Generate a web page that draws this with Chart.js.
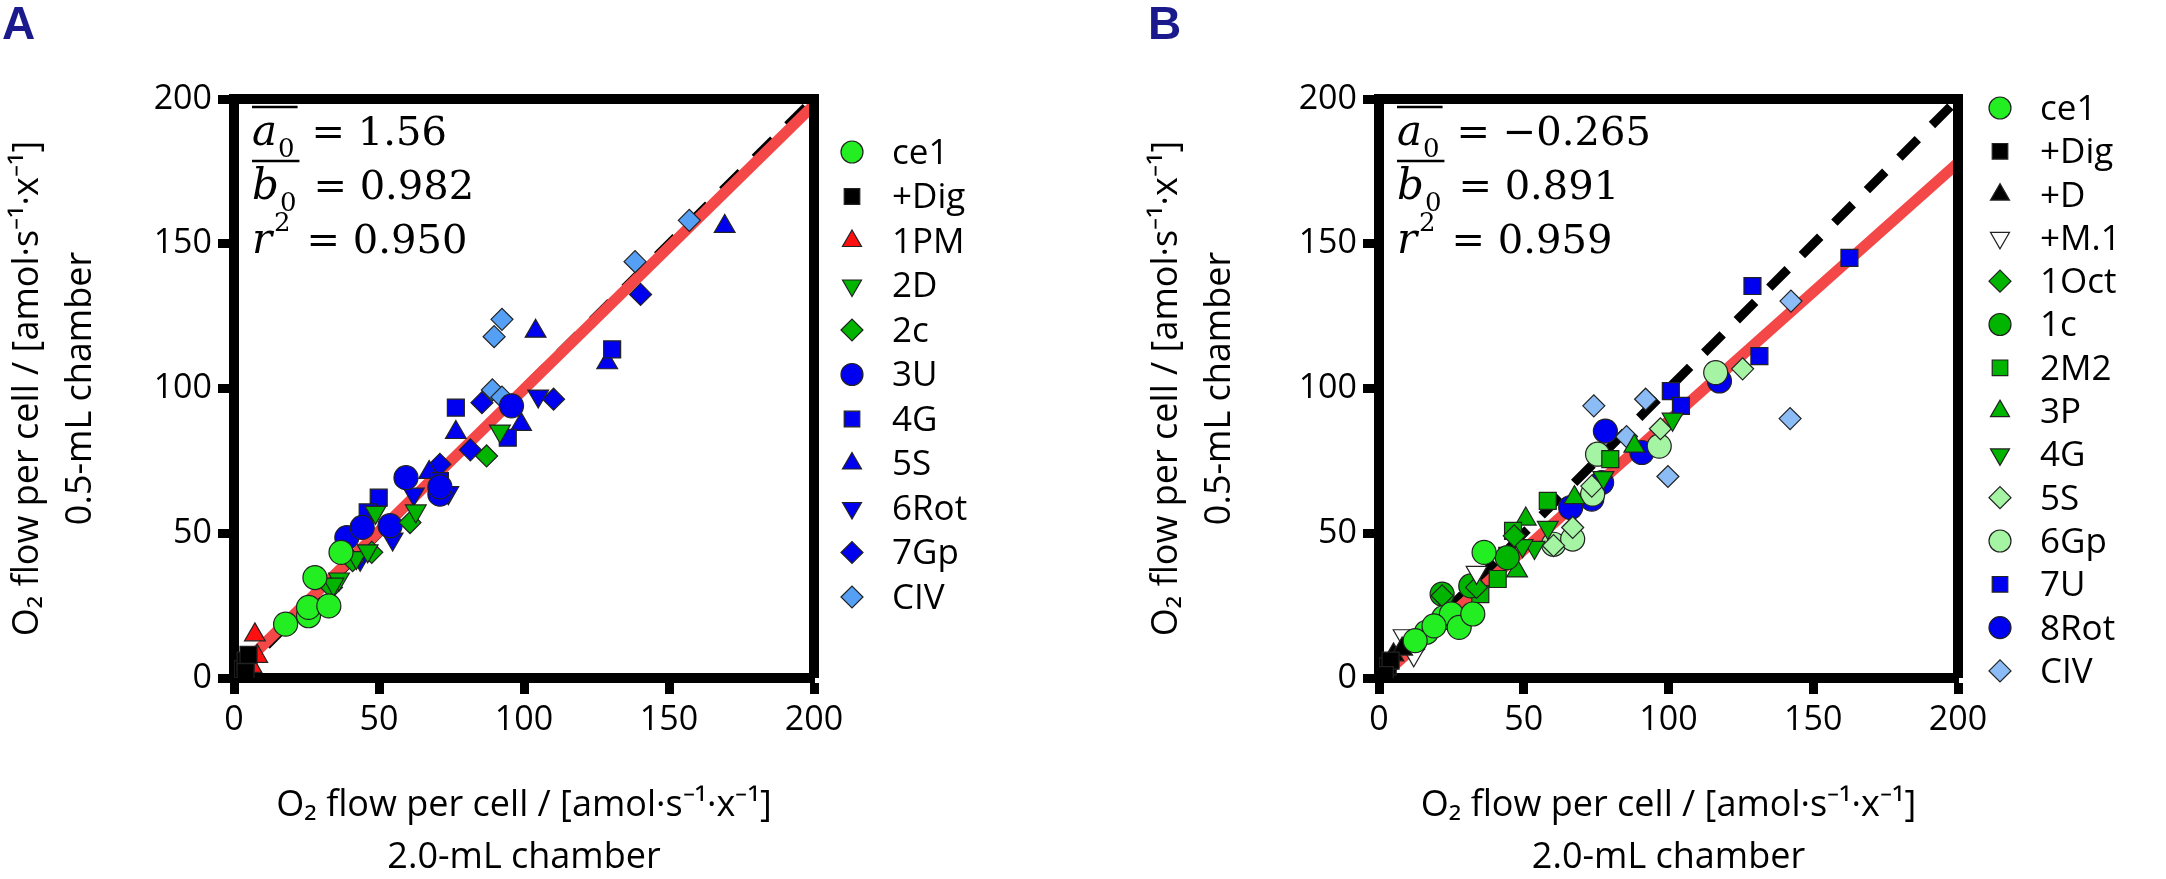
<!DOCTYPE html>
<html>
<head>
<meta charset="utf-8">
<script src="https://cdn.jsdelivr.net/npm/chart.js@4"></script>
<style>
  body { margin: 0; background: #fff; width: 2166px; height: 879px; overflow: hidden; position: relative; font-family: 'Open Sans', sans-serif; }
  .wrap { position: absolute; top: 0; width: 1083px; height: 879px; }
  .panel-tag { position: absolute; top: -4px; font: bold 46px 'Liberation Sans', sans-serif; color: #1a1a8c; }
</style>
</head>
<body>
<div class="wrap" style="left:0"><canvas id="chartA"></canvas></div>
<div class="wrap" style="left:1083px"><canvas id="chartB"></canvas></div>
<div class="panel-tag" style="left:2px">A</div>
<div class="panel-tag" style="left:1148px">B</div>
<script>
// axis ticks shared by both panels
const tickValues = [0, 50, 100, 150, 200];

// ---- Panel A ----
const a_ce1 = [{x:17.8,y:18.6},{x:25.7,y:21.5},{x:25.7,y:24.4},{x:32.7,y:24.9},{x:27.9,y:34.7},{x:36.9,y:43.4}];
const a_dig = [{x:3,y:3},{x:4,y:6},{x:5,y:8},{x:4,y:2}];
const a_1pm = [{x:7.2,y:14.9},{x:8,y:7.5},{x:6,y:4}];
const a_2d = [{x:36.2,y:34.2},{x:42.2,y:41.6},{x:46.1,y:43.9},{x:48.8,y:57.2},{x:62.7,y:57.7},{x:91.7,y:85.3},{x:34.3,y:32.4}];
const a_2c = [{x:87.1,y:76.7},{x:60.7,y:53.7},{x:47.5,y:43.4},{x:33.6,y:31.3},{x:40.9,y:40.5}];
const a_3u = [{x:38.9,y:48.5},{x:44.2,y:52},{x:53.8,y:52.6},{x:59.3,y:69.2},{x:71,y:63.5},{x:95.7,y:94},{x:71,y:66}];
const a_4g = [{x:49.9,y:62.3},{x:76.5,y:93.4},{x:94.4,y:83},{x:130.4,y:113.5},{x:71,y:68},{x:46.1,y:57.2}];
const a_5s = [{x:76.5,y:84.8},{x:99,y:87.6},{x:104,y:119.8},{x:128.7,y:108.9},{x:169.2,y:156},{x:67.3,y:71}];
const a_6rot = [{x:104.9,y:97.4},{x:62,y:63.5},{x:54.7,y:48},{x:43.5,y:41},{x:73.9,y:64}];
const a_7gp = [{x:110.2,y:96.3},{x:85.5,y:95.1},{x:81.5,y:78.8},{x:140.2,y:132.5},{x:71,y:73.8}];
const a_civ = [{x:92.4,y:123.9},{x:89.7,y:117.9},{x:89.1,y:99.5},{x:138.3,y:143.8},{x:157,y:158.1},{x:92.4,y:97}];
const a_fit = { a0: 1.56, b0: 0.982, r2: '0.950', a0Text: '1.56', b0Text: '0.982' };

// ---- Panel B ----
const b_ce1 = [{x:16.4,y:15.8},{x:22.4,y:20.9},{x:25,y:22.1},{x:27.7,y:17.5},{x:32.4,y:22.1},{x:36.3,y:43.4},{x:12.5,y:12.9},{x:19,y:18}];
const b_dig = [{x:1,y:2},{x:3,y:4},{x:4,y:6},{x:2,y:1}];
const b_d = [{x:2,y:4},{x:5,y:8},{x:8,y:10}];
const b_m1 = [{x:3,y:2},{x:8.5,y:14.6},{x:12,y:8},{x:33.7,y:36.5}];
const b_1oct = [{x:21.8,y:28.4},{x:33.7,y:31.3},{x:46.7,y:49.1},{x:12,y:10}];
const b_1c = [{x:21.8,y:29},{x:31.7,y:31.8},{x:44.3,y:41.6}];
const b_2m2 = [{x:35,y:29},{x:41,y:34.2},{x:46.3,y:50.8},{x:58.3,y:61.2},{x:79.9,y:75.6},{x:44.3,y:42.2}];
const b_3p = [{x:50.7,y:54.9},{x:67.5,y:62.3},{x:88.2,y:80.1},{x:47.7,y:37}];
const b_4g = [{x:58.3,y:52},{x:53.7,y:45.1},{x:77.5,y:69.2},{x:101.4,y:89.4},{x:49.6,y:45.7}];
const b_5s = [{x:66.9,y:52},{x:73.5,y:66.3},{x:97.2,y:86.1},{x:125.6,y:106.8},{x:60.3,y:45.7}];
const b_6gp = [{x:60.3,y:46.2},{x:66.9,y:48},{x:73.8,y:63.5},{x:75.5,y:77.3},{x:96.8,y:80.1},{x:116.3,y:105.5}];
const b_7u = [{x:129,y:135.4},{x:162.5,y:145.1},{x:131.4,y:111.2},{x:100.8,y:99.1},{x:104.3,y:94}];
const b_8rot = [{x:78.2,y:85.3},{x:90.8,y:77.9},{x:117.6,y:102.6},{x:76.9,y:67.5},{x:73.5,y:61.8},{x:66.2,y:58.9}];
const b_civ = [{x:74.2,y:94},{x:92.1,y:96.3},{x:85.5,y:83.4},{x:99.8,y:69.6},{x:142.3,y:130.2},{x:142,y:89.6}];
const b_fit = { a0: -0.265, b0: 0.891, a0Text: '\u22120.265', b0Text: '0.891', r2: '0.959' };

const FONT = "'Open Sans', sans-serif";

function pts(label, data, shape, color, rotation, radius) {
    return {
        label, data, type: 'scatter', pointStyle: shape, rotation: rotation || 0,
        backgroundColor: color, borderColor: '#222', borderWidth: 1.2,
        pointRadius: radius || 12, pointHoverRadius: radius || 12, order: 0, legendItem: true
    };
}

function lineSets(fit, redStart) {
    return [
        { type: 'line', data: [{x:0,y:0},{x:200,y:200}], borderColor: '#000', borderWidth: 9,
          borderDash: [26, 20], pointRadius: 0, order: 2 },
        { type: 'line', data: [{x:redStart,y:fit.a0 + fit.b0*redStart},{x:200,y:fit.a0 + fit.b0*200}],
          borderColor: '#f44848', borderWidth: 11, pointRadius: 0, order: 1 }
    ];
}

// frame, legend, equations, axis titles
const decorPlugin = {
    id: 'decor',
    afterDraw(chart, args, o) {
        const { ctx, chartArea: ca } = chart;
        ctx.save();
        ctx.strokeStyle = '#000';
        ctx.lineWidth = 10;
        ctx.beginPath();
        ctx.moveTo(ca.left, ca.top); ctx.lineTo(ca.right, ca.top); ctx.lineTo(ca.right, ca.bottom);
        ctx.stroke();

        // legend
        const items = chart.data.datasets.filter(d => d.legendItem);
        items.forEach((d, i) => {
            const y = o.legY + i * o.legStep;
            ctx.fillStyle = d.backgroundColor;
            ctx.strokeStyle = '#222';
            ctx.lineWidth = 1.2;
            ctx.setLineDash([]);
            Chart.helpers.drawPoint(ctx, { pointStyle: d.pointStyle, radius: 11, rotation: d.rotation, borderWidth: 1.2 }, o.legX, y);
            ctx.fillStyle = '#000';
            ctx.font = `35px ${FONT}`;
            ctx.textAlign = 'left'; ctx.textBaseline = 'middle';
            ctx.fillText(d.label, o.legX + 40, y + 2);
        });

        // fit equations
        const ex = ca.left + 18;
        const rows = [['a', o.fit.a0Text, true], ['b', o.fit.b0Text, true], ['r', o.fit.r2, false]];
        rows.forEach((r, i) => {
            const y = ca.top + 36 + i * 54;
            ctx.fillStyle = '#000';
            ctx.strokeStyle = '#000';
            ctx.textBaseline = 'alphabetic'; ctx.textAlign = 'left';
            ctx.font = "italic 42px 'DejaVu Serif', serif";
            ctx.fillText(r[0], ex, y + 10);
            const w = ctx.measureText(r[0]).width;
            ctx.font = "26px 'DejaVu Serif', serif";
            if (r[2]) ctx.fillText('0', ex + w + 1, y + 22);
            else ctx.fillText('2', ex + w + 2, y - 12);
            const w2 = w + ctx.measureText(r[2] ? '0' : '2').width + 4;
            if (r[2]) {
                ctx.lineWidth = 2.5;
                ctx.beginPath(); ctx.moveTo(ex, y - 28); ctx.lineTo(ex + w2, y - 28); ctx.stroke();
            }
            ctx.font = "40px 'DejaVu Serif', serif";
            ctx.fillText('= ' + r[1], ex + w2 + 14, y + 10);
        });

        // axis titles
        ctx.fillStyle = '#000';
        ctx.font = `36px ${FONT}`;
        ctx.textAlign = 'center'; ctx.textBaseline = 'middle';
        const cx = (ca.left + ca.right) / 2;
        ctx.fillText('O\u2082 flow per cell / [amol\u00b7s\u207b\u00b9\u00b7x\u207b\u00b9]', cx, 806);
        ctx.fillText('2.0-mL chamber', cx, 858);
        const cy = (ca.top + ca.bottom) / 2;
        ctx.save();
        ctx.translate(o.yTitleX, cy); ctx.rotate(-Math.PI / 2);
        ctx.fillText('O\u2082 flow per cell / [amol\u00b7s\u207b\u00b9\u00b7x\u207b\u00b9]', 0, 0);
        ctx.restore();
        ctx.save();
        ctx.translate(o.yTitleX + 53, cy); ctx.rotate(-Math.PI / 2);
        ctx.fillText('0.5-mL chamber', 0, 0);
        ctx.restore();
        ctx.restore();
    }
};

function axis(yAxis, fitWidth) {
    return {
        type: 'linear', min: 0, max: 200,
        afterBuildTicks: s => { s.ticks = tickValues.map(v => ({ value: v })); },
        afterFit: s => { if (yAxis) s.width = fitWidth; else s.height = fitWidth; },
        border: { display: true, color: '#000', width: 10 },
        grid: { drawOnChartArea: false, drawTicks: true, tickLength: 16, tickWidth: 9, tickColor: '#000' },
        ticks: { color: '#000', font: { size: 34, family: FONT }, padding: 6, maxRotation: 0 }
    };
}

function makeChart(id, datasets, fit, pad, yWidth, decor) {
    return new Chart(document.getElementById(id), {
        data: { datasets },
        options: {
            responsive: false, animation: false, devicePixelRatio: 1,
            layout: { padding: pad },
            scales: { x: axis(false, 110), y: axis(true, yWidth) },
            plugins: { legend: { display: false }, tooltip: { enabled: false }, decor: Object.assign({ fit }, decor) }
        },
        plugins: [decorPlugin]
    });
}

['chartA', 'chartB'].forEach(id => { const c = document.getElementById(id); c.width = 1083; c.height = 879; });

makeChart('chartA', [
    pts('ce1', a_ce1, 'circle', '#22ee22'),
    pts('+Dig', a_dig, 'rect', '#000'),
    pts('1PM', a_1pm, 'triangle', '#ff1010'),
    pts('2D', a_2d, 'triangle', '#00b400', 180),
    pts('2c', a_2c, 'rectRot', '#00b400', 0, 11),
    pts('3U', a_3u, 'circle', '#0000f0'),
    pts('4G', a_4g, 'rect', '#0000f0'),
    pts('5S', a_5s, 'triangle', '#0000f0'),
    pts('6Rot', a_6rot, 'triangle', '#0000f0', 180),
    pts('7Gp', a_7gp, 'rectRot', '#0000f0', 0, 11),
    pts('CIV', a_civ, 'rectRot', '#55a0f5', 0, 11),
    ...lineSets(a_fit, 5)
], a_fit, { left: 0, top: 99, right: 269, bottom: 91 }, 234,
   { legX: 852, legY: 152, legStep: 44.5, yTitleX: 28 });

makeChart('chartB', [
    pts('ce1', b_ce1, 'circle', '#22ee22'),
    pts('+Dig', b_dig, 'rect', '#000'),
    pts('+D', b_d, 'triangle', '#000'),
    pts('+M.1', b_m1, 'triangle', '#fff', 180),
    pts('1Oct', b_1oct, 'rectRot', '#00b400', 0, 11),
    pts('1c', b_1c, 'circle', '#00b400'),
    pts('2M2', b_2m2, 'rect', '#00b400'),
    pts('3P', b_3p, 'triangle', '#00b400'),
    pts('4G', b_4g, 'triangle', '#00b400', 180),
    pts('5S', b_5s, 'rectRot', '#a4f4a4', 0, 11),
    pts('6Gp', b_6gp, 'circle', '#a4f4a4'),
    pts('7U', b_7u, 'rect', '#0000f0'),
    pts('8Rot', b_8rot, 'circle', '#0000f0'),
    pts('CIV', b_civ, 'rectRot', '#8cbcf5', 0, 11),
    ...lineSets(b_fit, 0)
], b_fit, { left: 0, top: 99, right: 208, bottom: 91 }, 296,
   { legX: 917, legY: 108, legStep: 43.3, yTitleX: 84 });
</script>
</body>
</html>
